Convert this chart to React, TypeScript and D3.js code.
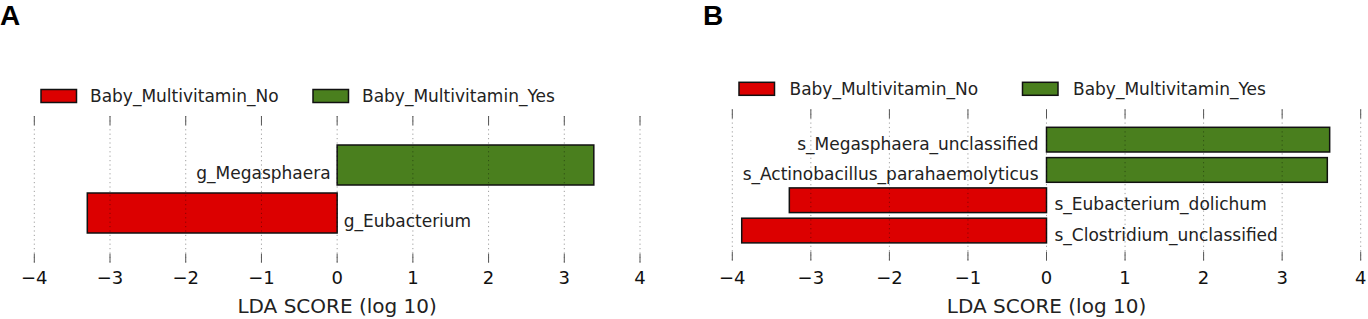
import React from "react";
import * as d3 from "d3";

const panelLabels = ["A", "B"];
const legendLabels = ["Baby_Multivitamin_No", "Baby_Multivitamin_Yes"];
const tickValues = [-4, -3, -2, -1, 0, 1, 2, 3, 4];
const axisTitle = "LDA SCORE (log 10)";

const taxaA = ["g_Megasphaera", "g_Eubacterium"];
const scoresA = [3.39, -3.3];

const taxaB = [
  "s_Megasphaera_unclassified",
  "s_Actinobacillus_parahaemolyticus",
  "s_Eubacterium_dolichum",
  "s_Clostridium_unclassified",
];
const scoresB = [3.605, 3.575, -3.274, -3.88];

const RED = "#dc0000";
const GREEN = "#4a7f1e";
const FONT = "DejaVu Sans, Verdana, sans-serif";

type PanelProps = {
  label: string;
  labelX: number;
  taxa: string[];
  scores: number[];
  xRange: [number, number];
  gridY: [number, number];
  bandRange: [number, number];
  padInner: number;
  labelDy: number;
  labelGap: number;
  legend: { redX: number; greenX: number; y: number; textDx: number };
};

function Panel(p: PanelProps) {
  const x = d3.scaleLinear().domain([-4, 4]).range(p.xRange);
  const y = d3
    .scaleBand<string>()
    .domain(p.taxa)
    .range(p.bandRange)
    .paddingInner(p.padInner)
    .paddingOuter(p.padInner / 2);
  const [gy0, gy1] = p.gridY;
  const tickLen = 9;
  const x0 = x(0);
  return (
    <g>
      <text
        x={p.labelX}
        y={24.5}
        fontFamily="Liberation Sans, Arial, sans-serif"
        fontWeight="bold"
        fontSize={28}
        fill="#000"
      >
        {p.label}
      </text>
      {/* legend */}
      {[0, 1].map((i) => {
        const lx = i === 0 ? p.legend.redX : p.legend.greenX;
        return (
          <g key={i}>
            <rect
              x={lx}
              y={p.legend.y}
              width={35.5}
              height={13}
              fill={i === 0 ? RED : GREEN}
              stroke="#111"
              strokeWidth={1.5}
            />
            <text
              x={lx + p.legend.textDx}
              y={p.legend.y + 12.5}
              fontFamily={FONT}
              fontSize={17}
              fill="#222"
            >
              {legendLabels[i]}
            </text>
          </g>
        );
      })}
      {/* bars */}
      {p.taxa.map((t, i) => {
        const v = p.scores[i];
        const xa = x(Math.min(0, v));
        const xb = x(Math.max(0, v));
        return (
          <rect
            key={t}
            x={xa}
            y={y(t)}
            width={xb - xa}
            height={y.bandwidth()}
            fill={v < 0 ? RED : GREEN}
            stroke="#111"
            strokeWidth={1.5}
          />
        );
      })}
      {/* grid + ticks */}
      {tickValues.map((tv) => (
        <g key={tv}>
          <line
            x1={x(tv)}
            x2={x(tv)}
            y1={gy0}
            y2={gy1}
            stroke="rgba(0,0,0,0.38)"
            strokeWidth={1}
            strokeDasharray="1.2,3.2"
          />
          <line x1={x(tv)} x2={x(tv)} y1={gy0} y2={gy0 + tickLen} stroke="#555" strokeWidth={1} />
          <line x1={x(tv)} x2={x(tv)} y1={gy1 - tickLen} y2={gy1} stroke="#555" strokeWidth={1} />
          <text
            x={x(tv)}
            y={284.3}
            textAnchor="middle"
            fontFamily={FONT}
            fontSize={18}
            fill="#111"
          >
            {tv < 0 ? "\u2212" + Math.abs(tv) : String(tv)}
          </text>
        </g>
      ))}
      {/* bar labels */}
      {p.taxa.map((t, i) => {
        const v = p.scores[i];
        const cy = (y(t) as number) + y.bandwidth() / 2;
        return (
          <text
            key={t}
            x={v >= 0 ? x0 - p.labelGap : x0 + p.labelGap}
            y={cy + p.labelDy}
            textAnchor={v >= 0 ? "end" : "start"}
            fontFamily={FONT}
            fontSize={17}
            fill="#222"
          >
            {t}
          </text>
        );
      })}
      <text
        x={x0}
        y={313}
        textAnchor="middle"
        fontFamily={FONT}
        fontSize={20}
        fill="#222"
      >
        {axisTitle}
      </text>
    </g>
  );
}

export default function App() {
  return (
    <div>
      <style>{`body{margin:0}`}</style>
      <svg width={1368} height={319} style={{ display: "block", background: "#fff" }}>
        <Panel
          label={panelLabels[0]}
          labelX={0}
          taxa={taxaA}
          scores={scoresA}
          xRange={[34.3, 640]}
          gridY={[116, 262.7]}
          bandRange={[141, 237]}
          padInner={1 / 6}
          labelDy={13.5}
          labelGap={6.5}
          legend={{ redX: 41, greenX: 313, y: 89.5, textDx: 49 }}
        />
        <Panel
          label={panelLabels[1]}
          labelX={703}
          taxa={taxaB}
          scores={scoresB}
          xRange={[732.3, 1360.7]}
          gridY={[109.3, 260.7]}
          bandRange={[124.5, 245.7]}
          padInner={0.185}
          labelDy={10}
          labelGap={8}
          legend={{ redX: 739, greenX: 1022.5, y: 82.3, textDx: 50.5 }}
        />
      </svg>
    </div>
  );
}
